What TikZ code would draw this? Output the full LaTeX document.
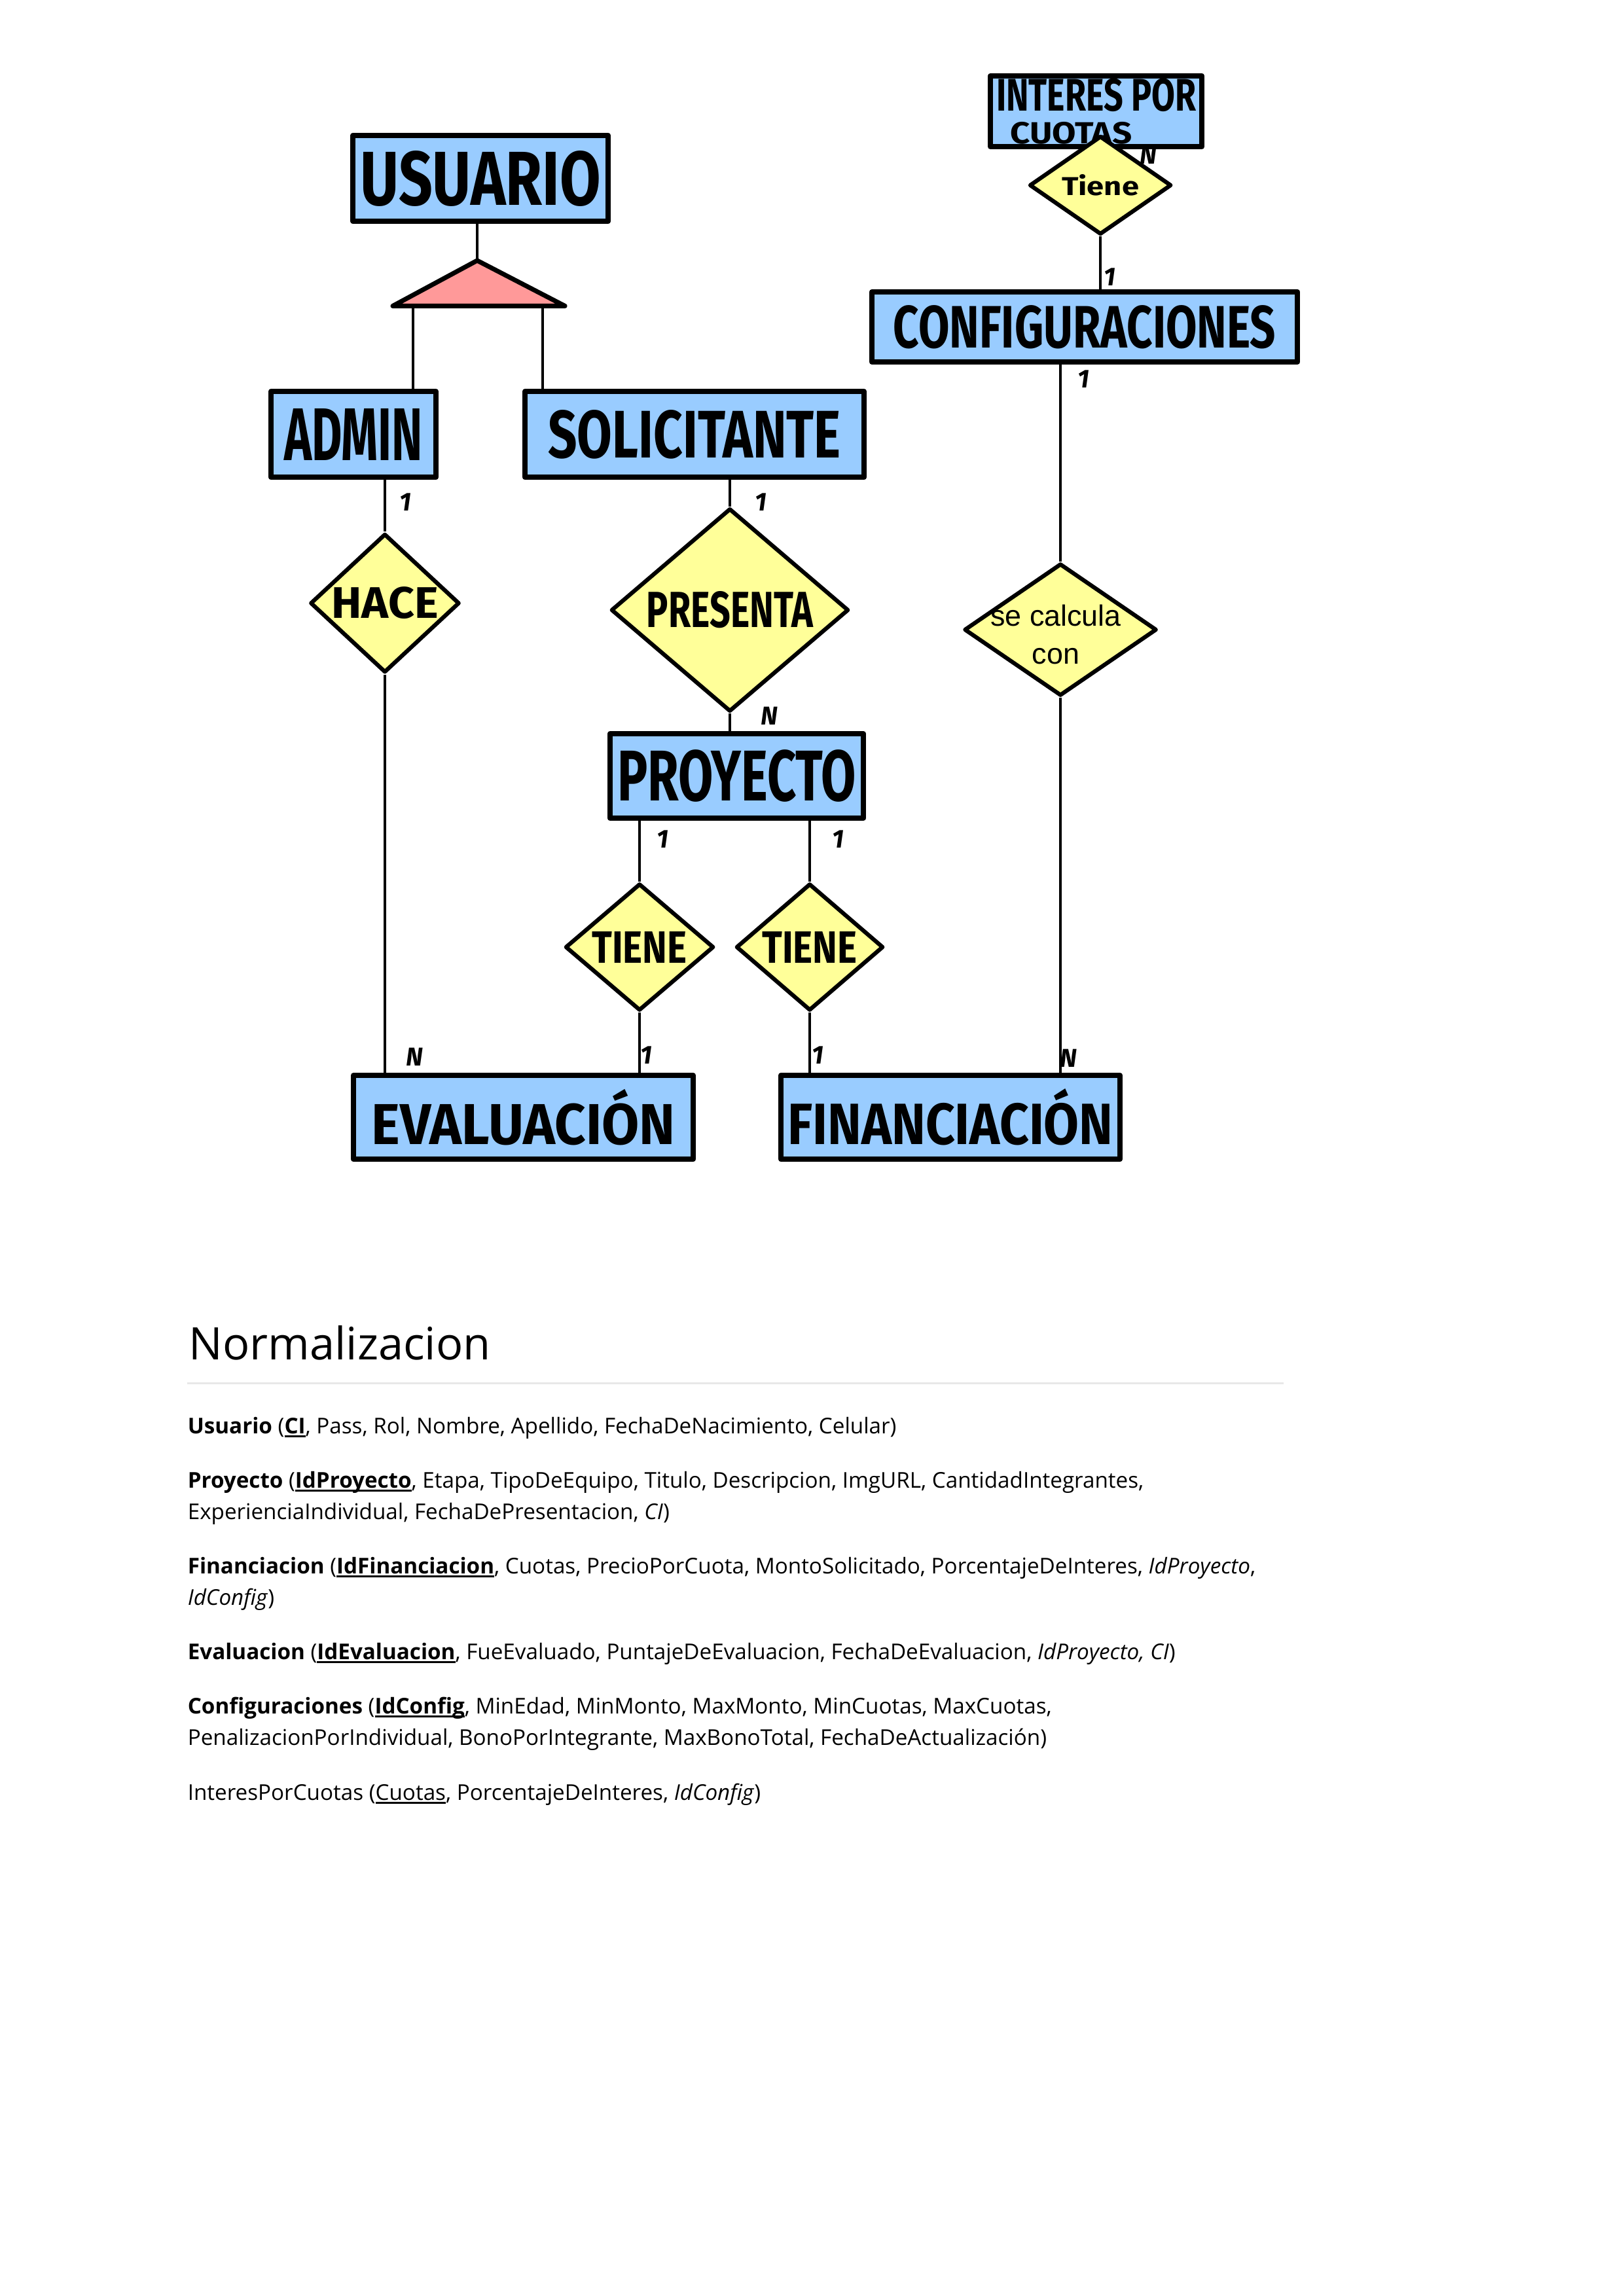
\documentclass[tikz,border=0pt]{standalone}
\usepackage{fontspec}
\usepackage{graphicx}
\usepackage{tikz}
\usetikzlibrary{shapes.geometric,calc}
\setmainfont{Open Sans}
\newfontfamily\handfont{Fira Sans}
\newfontfamily\arialfont{Liberation Sans}
\definecolor{entblue}{RGB}{153,204,255}
\definecolor{relyellow}{RGB}{255,255,153}
\definecolor{isared}{RGB}{255,153,153}
\definecolor{rulegray}{RGB}{232,232,232}

\newcommand{\hw}[3]{\resizebox{#1}{#2}{\handfont\bfseries #3}}
\newcommand{\clave}[1]{{\setbox0=\hbox{#1}\rlap{\rule[-1.5pt]{\wd0}{0.7pt}}\box0}}

\tikzset{
  entity/.style={draw, line width=2pt, fill=entblue, inner sep=0pt, line join=round},
  rel/.style={diamond, draw, line width=1.5pt, fill=relyellow, inner sep=0pt, line join=round},
  link/.style={line width=1pt},
  card/.style={inner sep=0pt, font=\handfont\bfseries\itshape\fontsize{9.5pt}{9.5pt}\selectfont},
  calctxt/.style={align=center, inner sep=0pt, xshift=-0.06cm, yshift=-0.06cm,
    font=\arialfont\fontsize{10.8pt}{14pt}\selectfont},
  body/.style={inner sep=0pt, anchor=base west, font=\fontsize{8pt}{9.6pt}\selectfont},
}

\begin{document}
\begin{tikzpicture}
\useasboundingbox (0,0) rectangle (21,-29.7);

% entidades
\node[entity, minimum width=3.302cm, minimum height=1.109cm] (usuario) at (6.215,-2.307)
  {\hw{3.107cm}{0.703cm}{USUARIO}};
\node[entity, minimum width=2.134cm, minimum height=1.109cm] (admin) at (4.572,-5.618)
  {\hw{1.795cm}{0.669cm}{ADMIN}};
\node[entity, minimum width=4.386cm, minimum height=1.109cm] (solicitante) at (8.983,-5.618)
  {\hw{3.785cm}{0.618cm}{SOLICITANTE}};
\node[entity, minimum width=3.277cm, minimum height=1.092cm] (proyecto) at (9.529,-10.037)
  {\hw{3.090cm}{0.660cm}{PROYECTO}};
\node[entity, minimum width=4.394cm, minimum height=1.084cm] (evaluacion) at (6.769,-14.453)
  {\hw{3.929cm}{0.713cm}{EVALUACIÓN}};
\node[entity, minimum width=4.386cm, minimum height=1.084cm] (financiacion) at (12.294,-14.453)
  {\hw{4.208cm}{0.720cm}{FINANCIACIÓN}};
\node[entity, minimum width=5.503cm, minimum height=0.906cm] (config) at (14.029,-4.229)
  {\hw{4.945cm}{0.550cm}{CONFIGURACIONES}};
\node[entity, minimum width=2.735cm, minimum height=0.914cm, align=left,
  font=\fontsize{8pt}{10.4pt}\selectfont] (cuotas) at (14.178,-1.439)
  {\hw{2.582cm}{0.42cm}{INTERES POR}\\[1.5pt]\hspace*{0.178cm}\hw{1.575cm}{0.28cm}{CUOTAS}};

% relaciones
\node[rel, minimum width=1.930cm, minimum height=1.685cm] (hace) at (4.978,-7.802)
  {\hw{1.380cm}{0.406cm}{HACE}};
\node[rel, minimum width=3.073cm, minimum height=1.964cm] (presenta) at (9.440,-7.891)
  {\hw{2.151cm}{0.466cm}{PRESENTA}};
\node[rel, minimum width=1.922cm, minimum height=1.643cm] (tieneev) at (8.272,-12.251)
  {\hw{1.228cm}{0.406cm}{TIENE}};
\node[rel, minimum width=1.905cm, minimum height=1.643cm] (tienefin) at (10.473,-12.251)
  {\hw{1.228cm}{0.406cm}{TIENE}};
\node[rel, minimum width=2.489cm, minimum height=1.710cm,
  label={[calctxt]center:se calcula\\con}] (calc) at (13.716,-8.145) {};
\node[rel, minimum width=1.837cm, minimum height=0.914cm] (tienecuotas) at (14.233,-2.396)
  {\hw{0.999cm}{0.271cm}{Tiene}};

% generalizacion
\coordinate (isa top) at (6.172,-3.370);
\coordinate (isa left) at (5.080,-3.958);
\coordinate (isa right) at (7.307,-3.958);
\coordinate (isa a) at ($(isa left)!0.118!(isa right)$);
\coordinate (isa s) at ($(isa left)!0.871!(isa right)$);
\draw[line width=1.7pt, fill=isared, line join=round] (isa top) -- (isa left) -- (isa right) -- cycle;

% conectores
\draw[link] (usuario.south -| isa top) -- (isa top);
\draw[link] (isa a) -- (isa a |- admin.north);
\draw[link] (isa s) -- (isa s |- solicitante.north);
\draw[link] (hace.north |- admin.south) -- (hace.north);
\draw[link] (hace.south) -- (hace.south |- evaluacion.north);
\draw[link] (presenta.north |- solicitante.south) -- (presenta.north);
\draw[link] (presenta.south) -- (presenta.south |- proyecto.north);
\draw[link] (tieneev.north |- proyecto.south) -- (tieneev.north);
\draw[link] (tieneev.south) -- (tieneev.south |- evaluacion.north);
\draw[link] (tienefin.north |- proyecto.south) -- (tienefin.north);
\draw[link] (tienefin.south) -- (tienefin.south |- financiacion.north);
\draw[link] (calc.north |- config.south) -- (calc.north);
\draw[link] (calc.south) -- (calc.south |- financiacion.north);
\draw[link] (tienecuotas.south) -- (tienecuotas.south |- config.north);

% cardinalidades
\node[card] (c admin) at (5.241,-6.494) {1};
\node[card] (c solic) at (9.838,-6.494) {1};
\node[card] (c presenta) at (9.948,-9.263) {N};
\node[card] (c ev top) at (8.568,-10.854) {1};
\node[card] (c fin top) at (10.837,-10.854) {1};
\node[card] (c hace) at (5.359,-13.674) {N};
\node[card] (c ev) at (8.361,-13.653) {1};
\node[card] (c fin) at (10.579,-13.646) {1};
\node[card] (c calc) at (13.823,-13.690) {N};
\node[card] (c config) at (14.012,-4.902) {1};
\node[card] (c config top) at (14.351,-3.581) {1};
\node[card] (c cuotas) at (14.851,-2.007) {N};

% normalizacion
\node[inner sep=0pt, anchor=base west, font=\fontsize{16.5pt}{20pt}\selectfont] (titulo)
  at (2.438,-17.585) {Normalizacion};
\draw[rulegray, line width=0.7pt] (2.421,-17.890) -- (16.60,-17.890);

\node[body] (t usuario) at (2.421,-18.542)
  {\textbf{Usuario} (\textbf{\clave{CI}}, Pass, Rol, Nombre, Apellido, FechaDeNacimiento, Celular)};
\node[body] (t proyecto) at (2.421,-19.245)
  {\textbf{Proyecto} (\textbf{\clave{IdProyecto}}, Etapa, TipoDeEquipo, Titulo, Descripcion, ImgURL, CantidadIntegrantes,};
\node[body] (t proyecto b) at (2.421,-19.651)
  {ExperienciaIndividual, FechaDePresentacion, \textit{CI})};
\node[body] (t financiacion) at (2.421,-20.354)
  {\textbf{Financiacion} (\textbf{\clave{IdFinanciacion}}, Cuotas, PrecioPorCuota, MontoSolicitado, PorcentajeDeInteres, \textit{IdProyecto},};
\node[body] (t financiacion b) at (2.421,-20.760)
  {\textit{IdConfig})};
\node[body] (t evaluacion) at (2.421,-21.463)
  {\textbf{Evaluacion} (\textbf{\clave{IdEvaluacion}}, FueEvaluado, PuntajeDeEvaluacion, FechaDeEvaluacion, \textit{IdProyecto, CI})};
\node[body] (t config) at (2.421,-22.166)
  {\textbf{Configuraciones} (\textbf{\clave{IdConfig}}, MinEdad, MinMonto, MaxMonto, MinCuotas, MaxCuotas,};
\node[body] (t config b) at (2.421,-22.572)
  {PenalizacionPorIndividual, BonoPorIntegrante, MaxBonoTotal, FechaDeActualización)};
\node[body] (t cuotas) at (2.421,-23.283)
  {InteresPorCuotas (\clave{Cuotas}, PorcentajeDeInteres, \textit{IdConfig})};
\end{tikzpicture}
\end{document}
